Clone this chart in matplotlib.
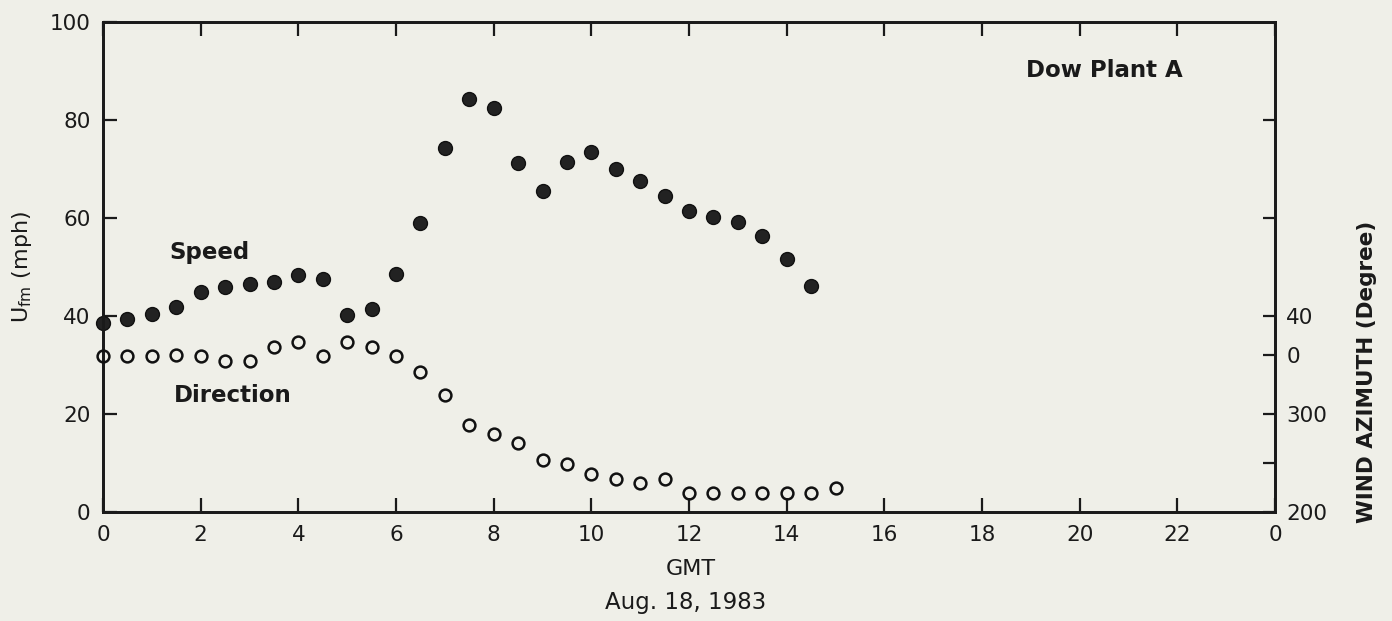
import numpy as np
import matplotlib
matplotlib.use('Agg')
import matplotlib.pyplot as plt

# GMT hours, Aug. 18 1983
hours_speed = np.arange(0, 15.0, 0.5)
speed = [38.5, 39.3, 40.5, 41.9, 45.0, 46.0, 46.6, 46.9, 48.4, 47.5,
         40.3, 41.5, 48.5, 59.0, 74.3, 84.3, 82.4, 71.2, 65.5, 71.5,
         73.5, 70.0, 67.5, 64.4, 61.4, 60.2, 59.2, 56.4, 51.7, 46.1]

# wind azimuth, unwrapped past 360 so the curve stays continuous
hours_dir = np.arange(0, 15.5, 0.5)
azimuth = [359, 359, 359, 360, 359, 354, 354, 368, 374, 359,
           373, 368, 359, 343, 319, 289, 279.5, 270, 253.5, 249.5,
           239, 233.5, 229.5, 233.5, 219.5, 219.5, 219.5, 219.5, 219.5, 219.5,
           225]

xticks = np.arange(0, 25, 2)
xticklabels = [str(int(t % 24)) for t in xticks]
yticks = [0, 20, 40, 60, 80, 100]
az_ticks = [200, 250, 300, 360, 400, 500, 600]
az_labels = ['200', '', '300', '0', '40', '', '']

bg = '#efefe8'
ink = '#1a1a1a'
fig = plt.figure(figsize=(13.92, 6.21), dpi=100, facecolor=bg)
ax = fig.add_axes([0.074, 0.1755, 0.842, 0.789])
ax.set_facecolor(bg)
ax.set_xlim(0, 24)
ax.set_ylim(0, 100)
for s in ax.spines.values():
    s.set_linewidth(2.0); s.set_color(ink)

ax.set_xticks(xticks)
ax.set_xticklabels(xticklabels)
ax.set_yticks(yticks)
ax.tick_params(direction='in', length=10, width=1.6, color=ink, labelsize=15.5,
               labelcolor=ink, pad=9, top=True, right=False)

ax.plot(hours_speed, speed, 'o', ms=10, color='#222222', mec='#111111', mew=1,
        zorder=3, clip_on=False)

az = ax.twinx()
az.set_ylim(200, 700)
az.set_yticks(az_ticks)
az.set_yticklabels(az_labels)
az.tick_params(direction='in', length=9, width=1.6, color=ink, labelsize=15.5,
               labelcolor=ink, pad=8)
for s in az.spines.values():
    s.set_linewidth(2.0); s.set_color(ink)
az.plot(hours_dir, azimuth, 'o', ms=8.5, mfc='none', mec='#111111', mew=1.8,
        zorder=3, clip_on=False)

ax.text(2.18, 51.6, 'Speed', fontsize=16.5, fontweight='bold', color=ink,
        ha='center', va='baseline')
ax.text(2.65, 22.5, 'Direction', fontsize=16.5, fontweight='bold', color=ink,
        ha='center', va='baseline')
ax.text(22.1, 88.8, 'Dow Plant A', fontsize=16.5, fontweight='bold', color=ink,
        ha='right', va='baseline')

fig.text(0.016, 0.57, r'U$_{\rm fm}$ (mph)', rotation=90, fontsize=16, color=ink,
         ha='center', va='center')
fig.text(0.982, 0.401, 'WIND AZIMUTH (Degree)', rotation=90, fontsize=15.5,
         fontweight='bold', color=ink, ha='center', va='center')
fig.text(0.4964, 1 - 569 / 621, 'GMT', fontsize=16, color=ink, ha='center', va='center')
fig.text(0.4928, 1 - 602 / 621, 'Aug. 18, 1983', fontsize=16.5, color=ink,
         ha='center', va='center')

fig.savefig('out.png', dpi=100, facecolor=bg)
